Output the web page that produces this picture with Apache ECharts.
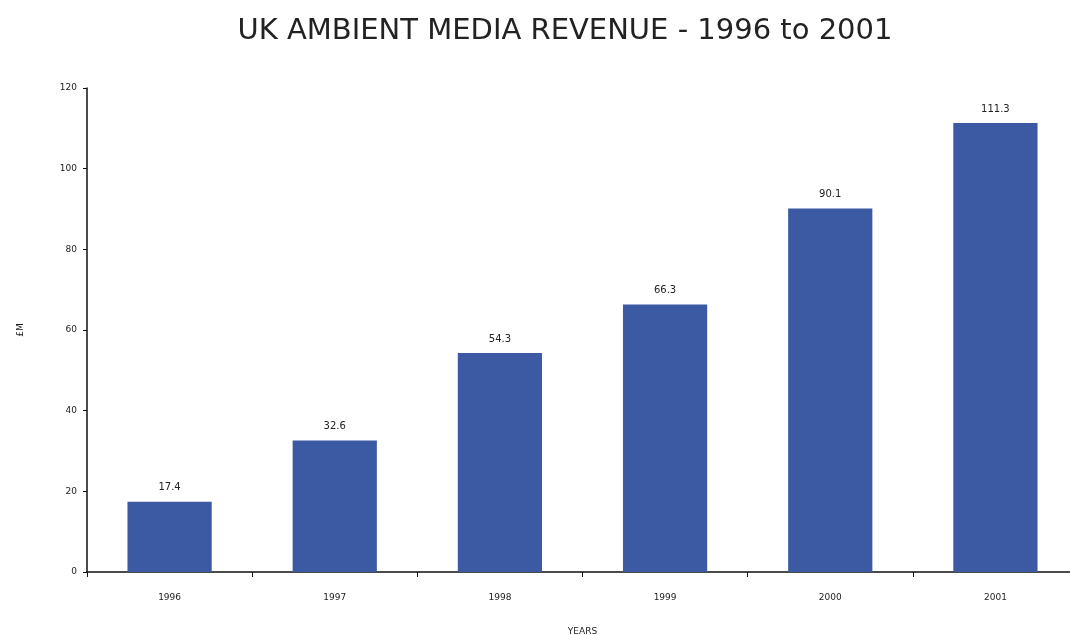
<!DOCTYPE html>
<html><head><meta charset="utf-8">
<script src="https://cdn.jsdelivr.net/npm/echarts@6/dist/echarts.min.js"></script>
<style>html,body{margin:0;padding:0;background:#fff}#c{width:1070px;height:635px}</style>
</head><body><div id="c"></div>
<script>
const categories = ['1996','1997','1998','1999','2000','2001'];
const revenue = [17.4, 32.6, 54.3, 66.3, 90.1, 111.3];
const yTicks = [0, 20, 40, 60, 80, 100, 120];

const chart = echarts.init(document.getElementById('c'));
chart.setOption({
  animation: false,
  backgroundColor: '#fff',
  title: {
    text: 'UK AMBIENT MEDIA REVENUE - 1996 to 2001',
    left: 560, top: 12, textAlign: 'center',
    textStyle: {fontFamily: 'DejaVu Sans', fontWeight: 'normal', fontSize: 29, color: '#222'}
  },
  grid: {left: 87, top: 88, width: 991, bottom: 63, containLabel: false, outerBoundsMode: 'none'},
  xAxis: {
    type: 'category', data: categories,
    name: 'YEARS', nameLocation: 'middle', nameGap: 55,
    nameTextStyle: {fontFamily: 'DejaVu Sans', fontSize: 9, color: '#222'},
    axisLine: {lineStyle: {color: '#111', width: 1.5}},
    axisTick: {show: true, alignWithLabel: false, length: 5, lineStyle: {color: '#111'}},
    axisLabel: {fontFamily: 'DejaVu Sans', fontSize: 9, color: '#222', margin: 21}
  },
  yAxis: {
    type: 'value', min: 0, max: 120, interval: 20,
    name: '£M', nameLocation: 'middle', nameGap: 62, nameRotate: 90,
    nameTextStyle: {fontFamily: 'DejaVu Sans', fontSize: 9, color: '#222'},
    axisLine: {show: true, lineStyle: {color: '#111', width: 1.5}},
    axisTick: {show: true, length: 4, lineStyle: {color: '#111'}},
    axisLabel: {fontFamily: 'DejaVu Sans', fontSize: 9, color: '#222', margin: 10,
      formatter: v => yTicks.includes(v) ? String(v) : ''},
    splitLine: {show: false}
  },
  series: [{
    type: 'bar', data: revenue, barWidth: '51%',
    itemStyle: {color: '#3c5aa3'},
    label: {show: true, position: 'top', distance: 9, fontFamily: 'DejaVu Sans', fontSize: 10, color: '#222',
      formatter: p => p.value.toFixed(1)}
  }]
});
</script></body></html>
